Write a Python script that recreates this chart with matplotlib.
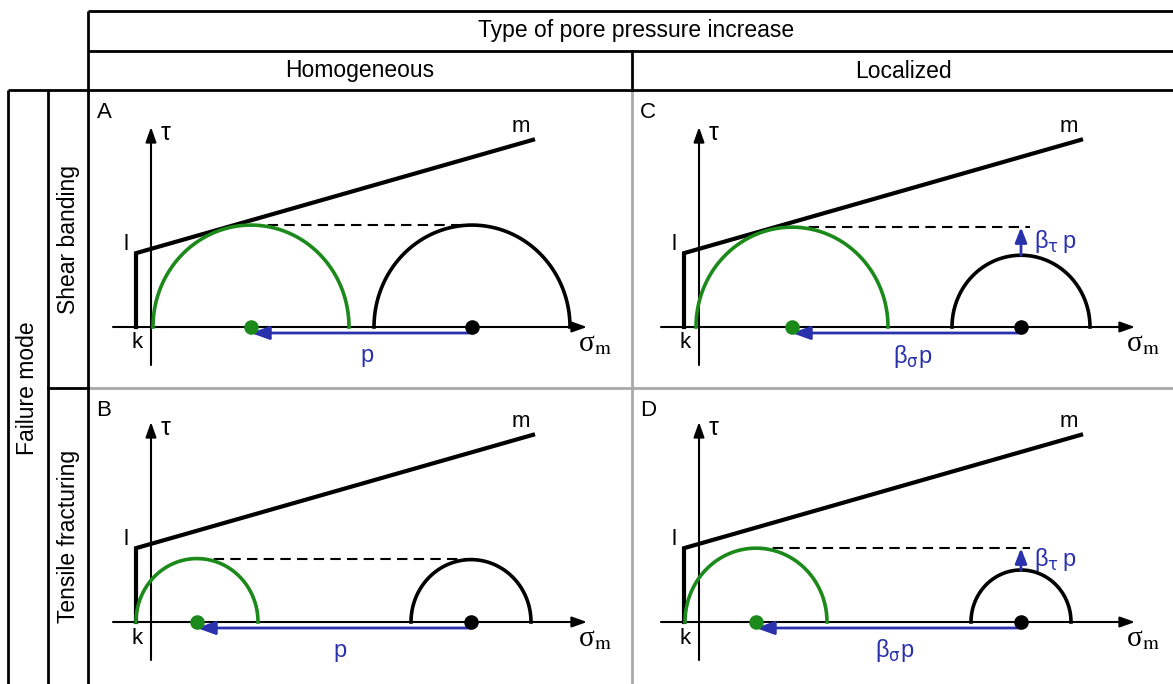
import numpy as np
import matplotlib
matplotlib.use("Agg")
import matplotlib.pyplot as plt

plt.rcParams['font.family'] = ['Liberation Sans', 'DejaVu Sans']

# Failure envelope (same in every panel): tension cut-off k, cohesion l, end point m
env_sigma = [-15, -15, 382]
env_tau = [0, 71, 180]

panel_names = ["A", "B", "C", "D"]
# Mohr circles after (green) and before (black) the pore pressure rise
green_centre = [100, 46, 93, 57]
green_radius = [98, 61, 96, 71]
black_centre = [321, 320, 322, 322]
black_radius = [98, 60, 69, 50]
localized = [False, False, True, True]

row_labels = ["Shear banding", "Tensile fracturing"]
col_labels = ["Homogeneous", "Localized"]

W, H = 1173, 684
fig = plt.figure(figsize=(W / 100, H / 100), dpi=100)

# table grid drawn in pixel space
bg = fig.add_axes([0, 0, 1, 1])
bg.set_xlim(0, W)
bg.set_ylim(H, 0)
bg.axis("off")

black_lw, grey = 2.0, "#a9a9a9"
for y, x0 in [(11, 88), (51, 88), (90, 8)]:
    bg.plot([x0, W], [y, y], color="k", lw=black_lw, solid_capstyle="butt")
for x, y0 in [(88, 11), (8, 90), (48, 90)]:
    bg.plot([x, x], [y0, H], color="k", lw=black_lw, solid_capstyle="butt")
bg.plot([632, 632], [51, 90], color="k", lw=black_lw)
bg.plot([632, 632], [90, H], color=grey, lw=black_lw, zorder=0)
bg.plot([48, 88], [388, 388], color="k", lw=black_lw)
bg.plot([88, W], [388, 388], color=grey, lw=black_lw, zorder=0)

hdr = 16.5
bg.text(636, 31, "Type of pore pressure increase", ha="center", va="center", fontsize=hdr)
bg.text(360, 71, col_labels[0], ha="center", va="center", fontsize=hdr)
bg.text(903, 71, col_labels[1], ha="center", va="center", fontsize=hdr)
bg.text(28, 388, "Failure mode", ha="center", va="center", rotation=90, fontsize=hdr)
bg.text(68, 239, row_labels[0], ha="center", va="center", rotation=90, fontsize=hdr)
bg.text(68, 536, row_labels[1], ha="center", va="center", rotation=90, fontsize=hdr)

# panel rectangles (pixels) and where the sigma/tau axes cross
rects = [(88, 90, 632, 388), (88, 388, 632, 684), (632, 90, 1173, 388), (632, 388, 1173, 684)]
origins = [(151, 327), (151, 622), (699, 327), (699, 622)]
ty = 1.04  # pixels per tau unit

blue = "#2a31ad"
green = "#1b8a1b"
lab = 16

for i, name in enumerate(panel_names):
    x0, y0, x1, y1 = rects[i]
    ox, oy = origins[i]
    ax = fig.add_axes([x0 / W, 1 - y1 / H, (x1 - x0) / W, (y1 - y0) / H])
    ax.set_xlim(x0 - ox, x1 - ox)
    ax.set_ylim((oy - y1) / ty, (oy - y0) / ty)
    ax.axis("off")
    ax.patch.set_alpha(0)

    arrow_k = dict(arrowstyle="-|>,head_length=0.9,head_width=0.32", lw=1.5,
                   color="k", shrinkA=0, shrinkB=0)
    ax.annotate("", xy=(436, 0), xytext=(-38, 0), arrowprops=arrow_k)
    ax.annotate("", xy=(0, 200 / ty), xytext=(0, -38 / ty), arrowprops=arrow_k)

    ax.plot(env_sigma, env_tau, color="k", lw=3, solid_joinstyle="miter", zorder=3)

    t = np.linspace(0, np.pi, 200)
    gc, gr = green_centre[i], green_radius[i]
    bc, br = black_centre[i], black_radius[i]
    ax.plot(gc + gr * np.cos(t), gr * np.sin(t), color=green, lw=2.6, zorder=3)
    ax.plot(bc + br * np.cos(t), br * np.sin(t), color="k", lw=2.6, zorder=3)

    ax.plot([gc, bc + 9], [gr, gr], color="k", lw=1.5, ls=(0, (5, 3)), zorder=2)

    ax.scatter([gc], [0], s=110, color=green, zorder=6, linewidths=0)
    ax.scatter([bc], [0], s=110, color="k", zorder=6, linewidths=0)

    off = -6 / ty
    ax.annotate("", xy=(gc, off), xytext=(bc, off), zorder=5,
                arrowprops=dict(arrowstyle="-|>,head_length=1.1,head_width=0.4", lw=2,
                                color=blue, shrinkA=0, shrinkB=0))
    if localized[i]:
        ax.annotate("", xy=(bc, gr), xytext=(bc, br), zorder=5,
                    arrowprops=dict(arrowstyle="-|>,head_length=0.9,head_width=0.35", lw=2,
                                    color=blue, shrinkA=0, shrinkB=0))
        ax.text(bc + 13, (gr + br) / 2, "β" + r"${}_{\mathrm{τ}}\,$" + "p", color=blue,
                fontsize=lab + 1, ha="left", va="center", math_fontfamily="dejavusans")
        plabel = "β" + r"${}_{\mathrm{σ}}$" + "p"
    else:
        plabel = "p"
    ax.annotate(plabel, xy=((gc + bc) / 2 + 6, 0), xytext=(0, -29), textcoords="offset pixels",
                ha="center", va="center", color=blue, fontsize=lab + 1,
                math_fontfamily="dejavusans")

    # text labels
    ax.annotate(name, xy=(0, 1), xycoords="axes fraction", xytext=(16, -22),
                textcoords="offset pixels", ha="center", va="center", fontsize=lab)
    ax.annotate("τ", xy=(0, 200 / ty), xytext=(15, -6), textcoords="offset pixels",
                ha="center", va="center", fontsize=lab + 2)
    ax.annotate("m", xy=(env_sigma[2], env_tau[2]), xytext=(-12, 13), textcoords="offset pixels",
                ha="center", va="center", fontsize=lab)
    ax.annotate("l", xy=(env_sigma[1], env_tau[1]), xytext=(-10, 9), textcoords="offset pixels",
                ha="center", va="center", fontsize=lab)
    ax.annotate("k", xy=(env_sigma[0], 0), xytext=(1, -16), textcoords="offset pixels",
                ha="center", va="center", fontsize=lab)
    ax.annotate("σ" + r"${}_{\mathrm{m}}$", xy=(436, 0), xytext=(8, -17), textcoords="offset pixels",
                ha="center", va="center", fontsize=lab + 5, family="Liberation Serif",
                math_fontfamily="stix")

fig.savefig("out.png", dpi=100)
